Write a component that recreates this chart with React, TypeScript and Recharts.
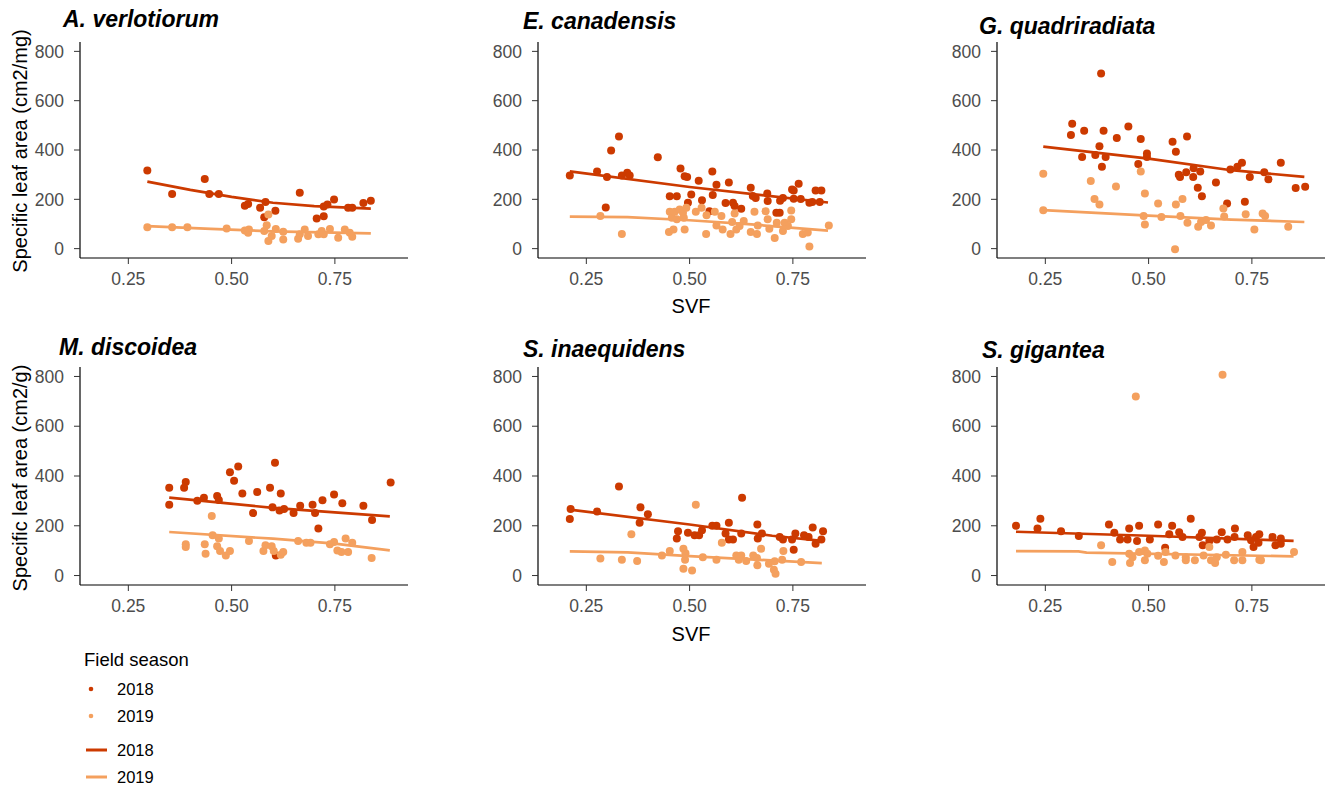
import { ScatterChart, Scatter, XAxis, YAxis } from 'recharts';

type Pt = [number, number];

const C2018 = '#cc3a00';
const C2019 = '#f4a05e';
const FONT = '"Liberation Sans", Arial, Helvetica, sans-serif';

const xTicks = [0.25, 0.5, 0.75];
const yTicks = [0, 200, 400, 600, 800];
const seasons = ['2018', '2019'];

// A. verlotiorum
const avPts2018: Pt[] = [
  [0.296, 317], [0.435, 282], [0.356, 222], [0.446, 222], [0.469, 222], [0.532, 174], [0.540, 181],
  [0.569, 166], [0.582, 189], [0.579, 127], [0.606, 154], [0.665, 227], [0.706, 122], [0.723, 131],
  [0.723, 171], [0.732, 179], [0.748, 199], [0.782, 166], [0.792, 166], [0.819, 185], [0.837, 194],
];
const avPts2019: Pt[] = [
  [0.296, 87], [0.356, 87], [0.393, 87], [0.488, 82], [0.532, 74], [0.542, 78], [0.540, 64],
  [0.579, 71], [0.585, 95], [0.589, 138], [0.589, 31], [0.597, 51], [0.607, 80], [0.625, 68],
  [0.625, 37], [0.661, 40], [0.665, 58], [0.677, 78], [0.685, 51], [0.710, 58], [0.718, 71],
  [0.723, 58], [0.738, 80], [0.758, 44], [0.774, 78], [0.786, 64], [0.792, 48],
];
const avFit2018: Pt[] = [[0.296, 272], [0.4, 238], [0.5, 210], [0.6, 186], [0.7, 172], [0.837, 162]];
const avFit2019: Pt[] = [[0.296, 91], [0.45, 80], [0.6, 70], [0.837, 62]];

// E. canadensis
const ecPts2018: Pt[] = [
  [0.210, 297], [0.276, 313], [0.300, 291], [0.310, 398], [0.329, 455], [0.297, 167], [0.336, 297],
  [0.349, 308], [0.355, 297], [0.423, 371], [0.452, 212], [0.469, 212], [0.478, 325], [0.488, 294],
  [0.494, 290], [0.496, 186], [0.504, 220], [0.522, 275], [0.530, 196], [0.548, 152], [0.555, 313],
  [0.556, 217], [0.565, 259], [0.595, 268], [0.587, 185], [0.605, 186], [0.609, 173], [0.625, 162],
  [0.648, 247], [0.653, 213], [0.660, 205], [0.688, 224], [0.689, 193], [0.710, 146], [0.718, 146],
  [0.719, 194], [0.726, 205], [0.748, 240], [0.752, 236], [0.752, 202], [0.764, 263], [0.769, 201],
  [0.790, 186], [0.797, 189], [0.805, 236], [0.815, 189], [0.819, 236],
];
const ecPts2019: Pt[] = [
  [0.284, 132], [0.336, 59], [0.450, 67], [0.452, 150], [0.457, 125], [0.461, 78], [0.464, 150],
  [0.469, 119], [0.476, 159], [0.484, 146], [0.488, 78], [0.492, 166], [0.486, 125], [0.515, 150],
  [0.529, 166], [0.541, 135], [0.540, 59], [0.561, 150], [0.565, 94], [0.577, 132], [0.580, 78],
  [0.599, 59], [0.603, 108], [0.609, 142], [0.613, 78], [0.621, 92], [0.631, 112], [0.648, 67],
  [0.657, 150], [0.663, 59], [0.665, 94], [0.684, 152], [0.689, 119], [0.693, 81], [0.706, 43],
  [0.711, 105], [0.726, 71], [0.730, 105], [0.738, 92], [0.746, 155], [0.746, 119], [0.774, 59],
  [0.786, 65], [0.790, 9], [0.837, 94],
];
const ecFit2018: Pt[] = [[0.21, 313], [0.5, 250], [0.835, 187]];
const ecFit2019: Pt[] = [[0.21, 130], [0.35, 128], [0.5, 115], [0.65, 98], [0.835, 73]];

// G. quadriradiata
const gqPts2018: Pt[] = [
  [0.385, 710], [0.315, 506], [0.312, 461], [0.344, 478], [0.391, 478], [0.451, 495], [0.339, 372],
  [0.371, 380], [0.381, 415], [0.396, 372], [0.387, 332], [0.423, 449], [0.481, 445], [0.475, 343],
  [0.496, 386], [0.496, 372], [0.558, 433], [0.566, 393], [0.593, 455], [0.573, 300], [0.576, 290],
  [0.591, 310], [0.609, 326], [0.608, 290], [0.625, 313], [0.619, 247], [0.629, 212], [0.663, 268],
  [0.690, 183], [0.698, 321], [0.715, 332], [0.726, 348], [0.733, 190], [0.745, 290], [0.780, 310],
  [0.790, 281], [0.820, 348], [0.856, 246], [0.879, 251],
];
const gqPts2019: Pt[] = [
  [0.245, 304], [0.245, 156], [0.360, 274], [0.369, 201], [0.381, 179], [0.421, 252], [0.481, 313],
  [0.491, 224], [0.488, 132], [0.491, 98], [0.523, 183], [0.531, 128], [0.564, -3], [0.566, 179],
  [0.582, 201], [0.577, 132], [0.594, 105], [0.620, 89], [0.627, 108], [0.639, 116], [0.651, 94],
  [0.681, 163], [0.683, 130], [0.735, 139], [0.756, 78], [0.776, 142], [0.782, 132], [0.838, 89],
];
const gqFit2018: Pt[] = [[0.245, 414], [0.5, 365], [0.7, 318], [0.877, 291]];
const gqFit2019: Pt[] = [[0.245, 156], [0.5, 134], [0.7, 118], [0.877, 108]];

// M. discoidea
const mdPts2018: Pt[] = [
  [0.349, 353], [0.349, 284], [0.385, 353], [0.389, 376], [0.417, 301], [0.433, 313], [0.465, 320],
  [0.469, 304], [0.496, 415], [0.506, 381], [0.516, 438], [0.526, 330], [0.552, 251], [0.562, 336],
  [0.593, 353], [0.599, 274], [0.605, 453], [0.619, 330], [0.616, 261], [0.627, 267], [0.650, 251],
  [0.666, 280], [0.696, 284], [0.702, 251], [0.710, 189], [0.720, 303], [0.748, 326], [0.768, 290],
  [0.819, 280], [0.840, 223], [0.885, 374], [0.607, 81],
];
const mdPts2019: Pt[] = [
  [0.452, 239], [0.389, 126], [0.389, 115], [0.435, 126], [0.437, 88], [0.454, 162], [0.469, 149],
  [0.465, 118], [0.472, 99], [0.486, 81], [0.496, 99], [0.542, 139], [0.577, 99], [0.582, 122],
  [0.597, 118], [0.602, 99], [0.619, 84], [0.625, 95], [0.661, 139], [0.681, 132], [0.691, 132],
  [0.738, 126], [0.748, 135], [0.756, 101], [0.766, 95], [0.776, 149], [0.782, 95], [0.792, 132],
  [0.839, 70],
];
const mdFit2018: Pt[] = [[0.349, 313], [0.6, 272], [0.883, 238]];
const mdFit2019: Pt[] = [[0.349, 175], [0.6, 148], [0.75, 128], [0.883, 101]];

// S. inaequidens
const siPts2018: Pt[] = [
  [0.212, 267], [0.210, 227], [0.276, 257], [0.329, 358], [0.381, 274], [0.379, 212], [0.399, 246],
  [0.472, 178], [0.469, 149], [0.496, 172], [0.512, 162], [0.523, 162], [0.530, 182], [0.555, 200],
  [0.565, 200], [0.587, 169], [0.595, 212], [0.595, 145], [0.605, 145], [0.627, 313], [0.625, 169],
  [0.664, 205], [0.665, 149], [0.675, 169], [0.718, 155], [0.726, 145], [0.748, 145], [0.752, 104],
  [0.756, 169], [0.777, 162], [0.788, 155], [0.798, 193], [0.805, 128], [0.819, 145], [0.823, 178],
];
const siPts2019: Pt[] = [
  [0.515, 284], [0.359, 166], [0.284, 68], [0.336, 63], [0.373, 58], [0.433, 81], [0.452, 99],
  [0.485, 108], [0.490, 90], [0.489, 63], [0.485, 27], [0.506, 20], [0.532, 74], [0.565, 63],
  [0.578, 132], [0.613, 81], [0.619, 63], [0.625, 81], [0.637, 58], [0.654, 81], [0.663, 70],
  [0.664, 41], [0.673, 108], [0.692, 47], [0.706, 57], [0.704, 23], [0.708, 7], [0.727, 99],
  [0.724, 63], [0.770, 54],
];
const siFit2018: Pt[] = [[0.21, 265], [0.5, 205], [0.7, 160], [0.82, 139]];
const siFit2019: Pt[] = [[0.21, 97], [0.35, 93], [0.5, 78], [0.82, 50]];

// S. gigantea
const sgPts2018: Pt[] = [
  [0.179, 200], [0.231, 189], [0.238, 228], [0.288, 178], [0.331, 159], [0.404, 205], [0.417, 172],
  [0.431, 145], [0.449, 145], [0.453, 189], [0.472, 139], [0.477, 200], [0.503, 145], [0.523, 205],
  [0.540, 112], [0.557, 200], [0.550, 166], [0.574, 174], [0.582, 155], [0.602, 228], [0.623, 155],
  [0.629, 172], [0.631, 122], [0.647, 139], [0.665, 145], [0.677, 174], [0.691, 145], [0.709, 189],
  [0.708, 155], [0.740, 162], [0.748, 142], [0.754, 115], [0.760, 155], [0.768, 166], [0.766, 132],
  [0.800, 155], [0.807, 122], [0.820, 149], [0.820, 128],
];
const sgPts2019: Pt[] = [
  [0.469, 719], [0.679, 807], [0.385, 122], [0.412, 54], [0.453, 88], [0.455, 50], [0.461, 74],
  [0.477, 95], [0.491, 101], [0.491, 61], [0.497, 88], [0.523, 80], [0.537, 54], [0.541, 95],
  [0.565, 81], [0.590, 61], [0.590, 74], [0.612, 61], [0.633, 81], [0.647, 115], [0.651, 61],
  [0.661, 50], [0.665, 74], [0.687, 84], [0.707, 61], [0.727, 95], [0.727, 61], [0.768, 63],
  [0.772, 61], [0.852, 95],
];
const sgFit2018: Pt[] = [[0.179, 176], [0.5, 160], [0.851, 139]];
const sgFit2019: Pt[] = [[0.179, 98], [0.33, 97], [0.35, 92], [0.851, 77]];

// layout
const X_DOMAIN = [0.133, 0.927];
const Y_DOMAIN = [-38, 838];
const COL_LEFT = [80, 538, 997];
const ROW_TOP = [42, 367];
const ROW_H = [216, 218];
const PLOT_W = 328;
const AXIS_W = 70;
const AXIS_H = 40;
const M_TOP = 6;

const panels = [
  { title: 'A. verlotiorum', col: 0, row: 0, tx: 63, ty: 27, p18: avPts2018, p19: avPts2019, f18: avFit2018, f19: avFit2019 },
  { title: 'E. canadensis', col: 1, row: 0, tx: 523, ty: 29, p18: ecPts2018, p19: ecPts2019, f18: ecFit2018, f19: ecFit2019 },
  { title: 'G. quadriradiata', col: 2, row: 0, tx: 979, ty: 34, p18: gqPts2018, p19: gqPts2019, f18: gqFit2018, f19: gqFit2019 },
  { title: 'M. discoidea', col: 0, row: 1, tx: 59, ty: 355, p18: mdPts2018, p19: mdPts2019, f18: mdFit2018, f19: mdFit2019 },
  { title: 'S. inaequidens', col: 1, row: 1, tx: 523, ty: 357, p18: siPts2018, p19: siPts2019, f18: siFit2018, f19: siFit2019 },
  { title: 'S. gigantea', col: 2, row: 1, tx: 982, ty: 358, p18: sgPts2018, p19: sgPts2019, f18: sgFit2018, f19: sgFit2019 },
];

const toData = (pts: Pt[]) => pts.map(([x, y]) => ({ x, y }));
const Dot = (props: any) => <circle cx={props.cx} cy={props.cy} r={4} fill={props.fill} />;
const NoDot = () => <g />;

function Panel({ cfg }: { cfg: (typeof panels)[number] }) {
  const left = COL_LEFT[cfg.col];
  const top = ROW_TOP[cfg.row];
  const h = ROW_H[cfg.row];
  return (
    <div style={{ position: 'absolute', left: left - AXIS_W, top: top - M_TOP }}>
      <ScatterChart
        width={PLOT_W + AXIS_W + 1}
        height={h + M_TOP + AXIS_H}
        margin={{ top: M_TOP, right: 1, left: 0, bottom: 0 }}
      >
        <XAxis
          type="number"
          dataKey="x"
          domain={X_DOMAIN}
          ticks={xTicks}
          allowDataOverflow
          height={AXIS_H}
          tickFormatter={(v: number) => v.toFixed(2)}
          axisLine={{ stroke: '#000', strokeWidth: 1.2 }}
          tickLine={{ stroke: '#333' }}
          tickSize={6}
          tickMargin={9}
          tick={{ fill: '#4d4d4d', fontSize: 17.5 }}
        />
        <YAxis
          type="number"
          dataKey="y"
          domain={Y_DOMAIN}
          ticks={yTicks}
          allowDataOverflow
          width={AXIS_W}
          axisLine={{ stroke: '#000', strokeWidth: 1.2 }}
          tickLine={{ stroke: '#333' }}
          tickSize={6}
          tickMargin={10}
          tick={{ fill: '#4d4d4d', fontSize: 17.5 }}
        />
        <Scatter name={seasons[0]} data={toData(cfg.p18)} fill={C2018} shape={Dot} isAnimationActive={false} />
        <Scatter name={seasons[1]} data={toData(cfg.p19)} fill={C2019} shape={Dot} isAnimationActive={false} />
        <Scatter
          data={toData(cfg.f18)}
          fill={C2018}
          line={{ stroke: C2018, strokeWidth: 2.7 }}
          shape={NoDot}
          isAnimationActive={false}
        />
        <Scatter
          data={toData(cfg.f19)}
          fill={C2019}
          line={{ stroke: C2019, strokeWidth: 2.7 }}
          shape={NoDot}
          isAnimationActive={false}
        />
      </ScatterChart>
    </div>
  );
}

export default function App() {
  return (
    <div style={{ position: 'absolute', left: 0, top: 0, width: 1325, height: 788, background: '#fff', fontFamily: FONT }}>
      {panels.map((p) => (
        <Panel key={p.title} cfg={p} />
      ))}
      <svg width={1325} height={788} style={{ position: 'absolute', left: 0, top: 0, pointerEvents: 'none' }} fontFamily={FONT}>
        {panels.map((p) => (
          <text key={p.title} x={p.tx} y={p.ty} fontSize={23} fontWeight="bold" fontStyle="italic" fill="#000">
            {p.title}
          </text>
        ))}
        <text x={27} y={151} fontSize={20} textAnchor="middle" transform="rotate(-90 27 151)" fill="#000">
          Specific leaf area (cm2/mg)
        </text>
        <text x={27} y={478} fontSize={20} textAnchor="middle" transform="rotate(-90 27 478)" fill="#000">
          Specific leaf area (cm2/g)
        </text>
        <text x={691} y={313} fontSize={20} textAnchor="middle" fill="#000">SVF</text>
        <text x={691} y={641} fontSize={20} textAnchor="middle" fill="#000">SVF</text>

        <text x={84} y={666} fontSize={18.5} fill="#000">Field season</text>
        <circle cx={91} cy={689} r={2.3} fill={C2018} />
        <text x={117} y={695} fontSize={16.5} fill="#000">{seasons[0]}</text>
        <circle cx={91} cy={716} r={2.3} fill={C2019} />
        <text x={117} y={722} fontSize={16.5} fill="#000">{seasons[1]}</text>
        <line x1={86} x2={107} y1={750} y2={750} stroke={C2018} strokeWidth={3} />
        <text x={117} y={756} fontSize={16.5} fill="#000">{seasons[0]}</text>
        <line x1={86} x2={107} y1={777} y2={777} stroke={C2019} strokeWidth={3} />
        <text x={117} y={783} fontSize={16.5} fill="#000">{seasons[1]}</text>
      </svg>
    </div>
  );
}
